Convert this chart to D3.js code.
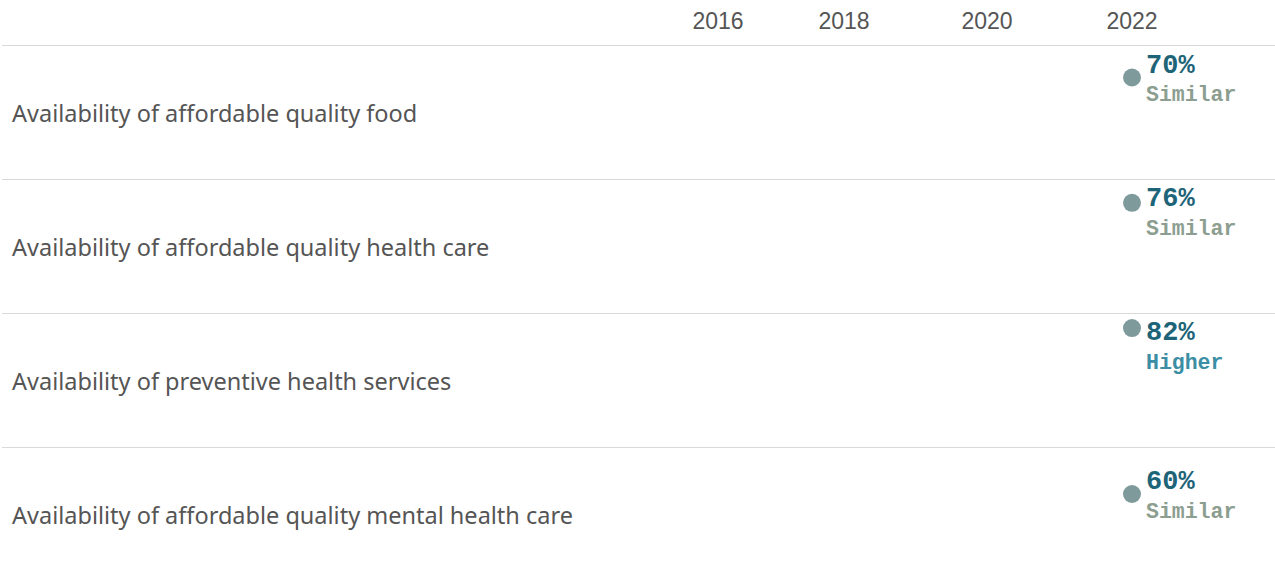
<!DOCTYPE html>
<html>
<head>
<meta charset="utf-8">
<script src="https://cdn.jsdelivr.net/npm/d3@7"></script>
<style>
  html, body { margin: 0; padding: 0; background: #fff; }
  svg { display: block; }
</style>
</head>
<body>
<svg id="chart" width="1275" height="577"></svg>
<script>
// Survey measures, one row each
const categories = [
  "Availability of affordable quality food",
  "Availability of affordable quality health care",
  "Availability of preventive health services",
  "Availability of affordable quality mental health care"
];
const years = [2016, 2018, 2020, 2022];
const yearLabels = ["2016", "2018", "2020", "2022"];
// 2022 results (percent) and comparison status
const pointYear = [2022, 2022, 2022, 2022];
const values = [70, 76, 82, 60];
const status = ["Similar", "Similar", "Higher", "Similar"];

const statusColor = { Similar: "#8c9e90", Higher: "#3b8ea3", Lower: "#b5651d" };

const width = 1275, height = 577;
const gridTop = 45, rowH = 134;

const svg = d3.select("#chart");

// Columns for the survey years
const x = d3.scaleLinear()
  .domain(years)
  .range([718, 844, 987, 1132]);

// Rows
const row = d3.scaleBand()
  .domain(categories)
  .range([gridTop, gridTop + rowH * categories.length])
  .padding(0);

// Value position inside each row
const yVal = d3.scaleLinear().domain([0, 100]).range([rowH, -11]);

// Year header
svg.append("g")
  .selectAll("text")
  .data(years)
  .join("text")
  .attr("x", d => x(d))
  .attr("y", 29)
  .attr("text-anchor", "middle")
  .attr("font-family", "'Liberation Sans', Arial, sans-serif")
  .attr("font-size", 23)
  .attr("fill", "#555")
  .text((d, i) => yearLabels[i]);

// Row separators
svg.append("g")
  .selectAll("line")
  .data(categories)
  .join("line")
  .attr("x1", 2)
  .attr("x2", width)
  .attr("y1", d => row(d) + 0.5)
  .attr("y2", d => row(d) + 0.5)
  .attr("stroke", "#d9d9d9")
  .attr("stroke-width", 1);

// Row labels
svg.append("g")
  .selectAll("text")
  .data(categories)
  .join("text")
  .attr("x", 12)
  .attr("y", d => row(d) + row.bandwidth() / 2 + 10)
  .attr("font-family", "'Noto Sans', 'Open Sans', sans-serif")
  .attr("font-size", 23.5)
  .attr("fill", "#555")
  .text(d => d);

// Points and labels
const pts = categories.map((c, i) => ({
  cat: c, year: pointYear[i], value: values[i], status: status[i]
}));

const g = svg.append("g")
  .selectAll("g")
  .data(pts)
  .join("g");

g.append("circle")
  .attr("cx", d => x(d.year))
  .attr("cy", d => row(d.cat) + yVal(d.value))
  .attr("r", 9)
  .attr("fill", "#7e9a9b");

// value label baseline: just above the dot, kept inside its row
const labelBase = d => Math.max(row(d.cat) + yVal(d.value) - 5, row(d.cat) + 27);

g.append("text")
  .attr("x", d => x(d.year) + 14)
  .attr("y", d => labelBase(d))
  .attr("font-family", "'Liberation Mono', 'Courier New', monospace")
  .attr("font-weight", "bold")
  .attr("font-size", 27)
  .attr("fill", "#1e6478")
  .text(d => d.value + "%");

g.append("text")
  .attr("x", d => x(d.year) + 14)
  .attr("y", d => labelBase(d) + 28.5)
  .attr("font-family", "'Liberation Mono', 'Courier New', monospace")
  .attr("font-weight", "bold")
  .attr("font-size", 21.5)
  .attr("fill", d => statusColor[d.status])
  .text(d => d.status);
</script>
</body>
</html>
